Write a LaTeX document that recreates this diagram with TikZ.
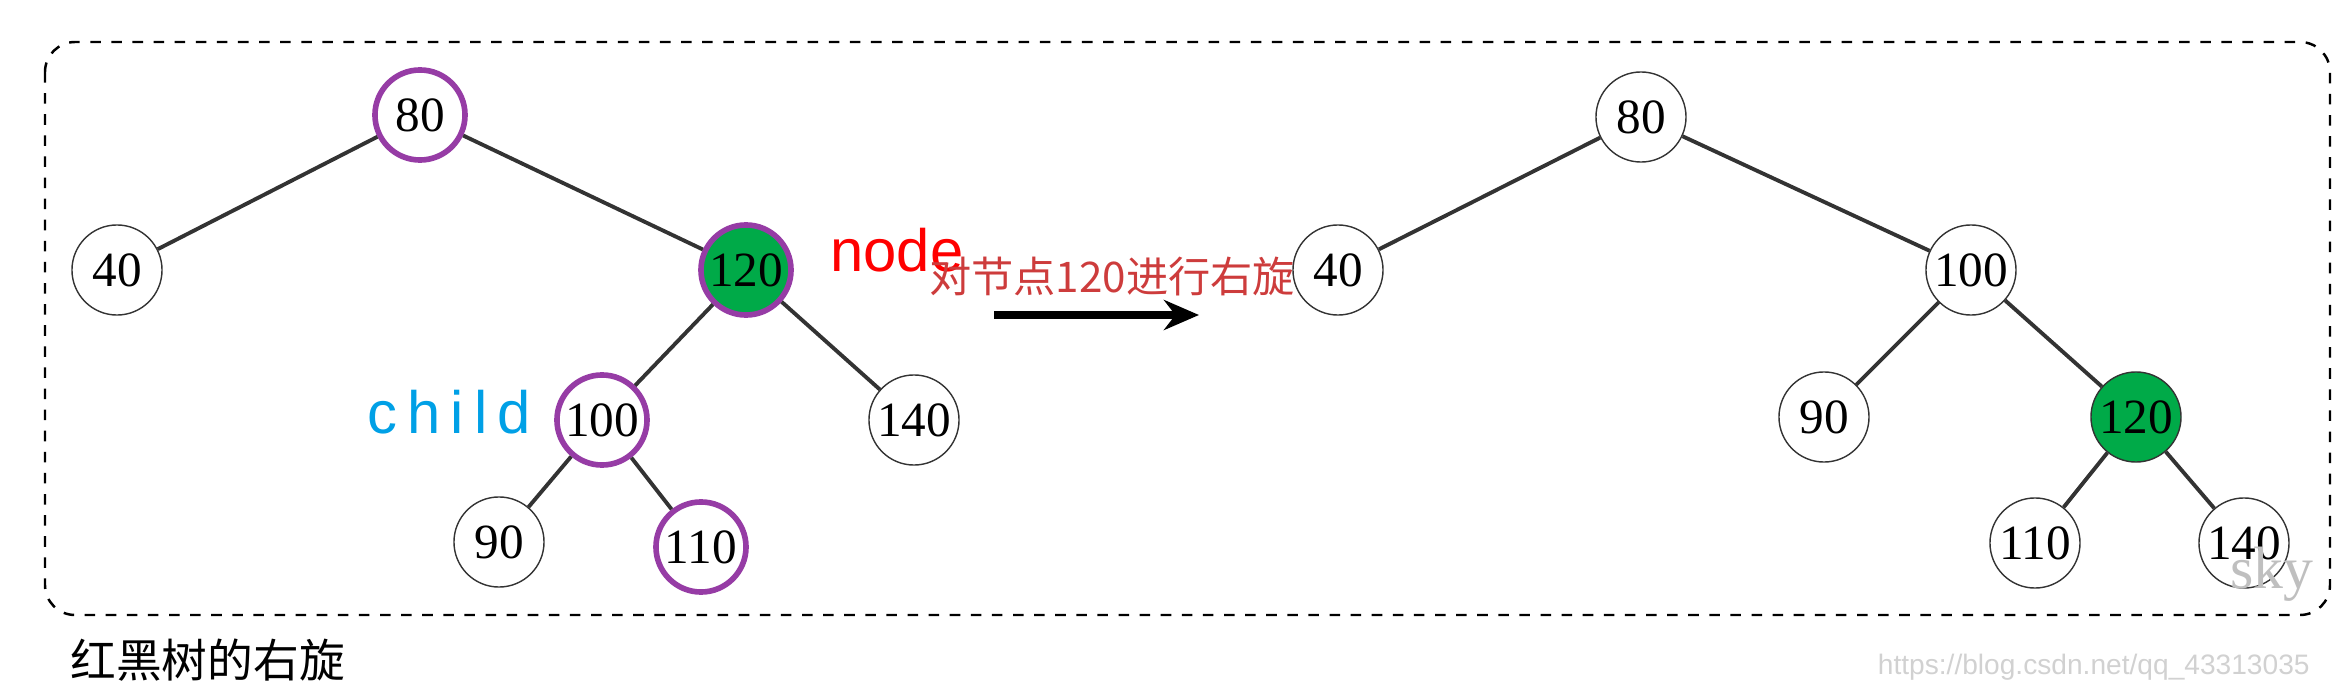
\documentclass[tikz,border=0pt]{standalone}
\usepackage{fontspec}
\setmainfont{Liberation Serif}
\newfontfamily\cjk{Noto Sans CJK SC}
\newfontfamily\sansf{Liberation Sans}
\usetikzlibrary{arrows.meta}
\definecolor{keypurple}{RGB}{150,60,165}
\definecolor{keygreen}{RGB}{0,170,72}
\tikzset{%
	every key/.style={
		circle,
		draw=black!80,
		fill=white,
		minimum size=0.9cm,
		inner sep=0pt,
		font=\fontsize{14}{14}\selectfont
	},
	key marked/.style={
		draw=keypurple,
		line width=1.6pt
	},
	key fixed/.style={
		fill=keygreen
	},
	edge/.style={
		draw=black!80,
		line width=1.1pt
	},
}

\begin{document}
\begin{tikzpicture}[x=0.01cm, y=-0.01cm]
		\useasboundingbox (0,0) rectangle (2350,685);
		\draw [dashed, line width=0.7pt, rounded corners=0.3cm] (45,42) rectangle (2330,615);
		
		% left tree
		\node [every key, key marked] (l80) at (420,115) {80};
		\node [every key] (l40) at (117,270) {40};
		\node [every key, key marked, key fixed] (l120) at (746,270) {120};
		\node [every key, key marked] (l100) at (602,420) {100};
		\node [every key] (l140) at (914,420) {140};
		\node [every key] (l90) at (499,542) {90};
		\node [every key, key marked] (l110) at (701,547) {110};
		
		\foreach \a/\b in {80/40,80/120,120/100,120/140,100/90,100/110}
		\draw [edge] (l\a) -- (l\b);
		
		\node [text=red, font=\sansf\fontsize{17}{17}\selectfont, anchor=west] (lnode) at (818,250) {node};
		\node [text={rgb,255:red,0;green,160;blue,230}, font=\sansf\fontsize{17}{17}\selectfont, anchor=east] (lchild) at (543,412) {c\,h\,i\,l\,d};
		
		% rotation
		\node [text={rgb,255:red,205;green,60;blue,60}, font=\cjk\fontsize{12}{12}\selectfont] (label) at (1112,277) {对节点120进行右旋};
		\coordinate (from) at (994,315);
		\coordinate (to) at (1199,315);
		\draw [-{Stealth[length=0.35cm, width=0.3cm]}, line width=2pt] (from) -- (to);
		
		% right tree
		\node [every key] (r80) at (1641,117) {80};
		\node [every key] (r40) at (1338,270) {40};
		\node [every key] (r100) at (1971,270) {100};
		\node [every key] (r90) at (1824,417) {90};
		\node [every key, key fixed] (r120) at (2136,417) {120};
		\node [every key] (r110) at (2035,543) {110};
		\node [every key] (r140) at (2244,543) {140};
		
		\foreach \a/\b in {80/40,80/100,100/90,100/120,120/110,120/140}
		\draw [edge] (r\a) -- (r\b);
		
		\node [text=black!25, font=\fontsize{17}{17}\selectfont] (sky) at (2272,574) {sky};
		\node [anchor=west, font=\cjk\fontsize{13}{13}\selectfont] (caption) at (58,660) {红黑树的右旋};
		\node [anchor=east, text=black!18, font=\sansf\fontsize{8}{8}\selectfont] (url) at (2322,667) {https://blog.csdn.net/qq\_43313035};
		
\end{tikzpicture}
\end{document}
